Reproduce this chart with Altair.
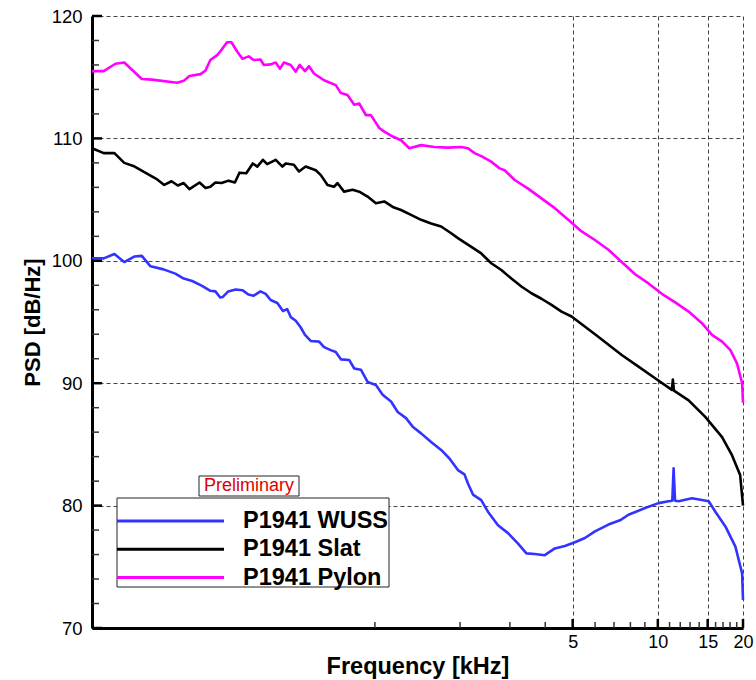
import altair as alt
import pandas as pd

FONT = "Liberation Sans"

series = ["P1941 WUSS", "P1941 Slat", "P1941 Pylon"]
colors = ["#3333ff", "#000000", "#ff00ff"]

# frequency in kHz, PSD in dB/Hz
wuss_f = [0.100, 0.110, 0.120, 0.130, 0.141, 0.150, 0.161, 0.179, 0.197, 0.211, 0.226, 0.245, 0.262, 0.273,
          0.284, 0.290, 0.303, 0.322, 0.340, 0.357, 0.373, 0.394, 0.411, 0.428, 0.452, 0.473, 0.490, 0.504,
          0.525, 0.547, 0.566, 0.593, 0.635, 0.661, 0.698, 0.727, 0.758, 0.811, 0.845, 0.892, 0.942, 1.008,
          1.065, 1.140, 1.204, 1.288, 1.360, 1.456, 1.580, 1.714, 1.834, 1.965, 2.073, 2.132, 2.221, 2.376,
          2.509, 2.723, 2.954, 3.206, 3.432, 3.672, 3.985, 4.324, 4.692, 5.091, 5.524, 5.995, 6.688, 7.350,
          7.874, 9.016, 10.06, 10.91, 11.25, 11.37, 11.50, 11.84, 13.20, 14.32, 15.13, 15.97, 17.33, 18.80,
          19.86, 20.0]
wuss_db = [100.2, 100.2, 100.55, 99.9, 100.35, 100.4, 99.55, 99.3, 98.95, 98.55, 98.35, 97.95, 97.55, 97.5,
           97.0, 97.05, 97.5, 97.65, 97.6, 97.25, 97.15, 97.5, 97.3, 96.8, 96.55, 95.9, 96.05, 95.4,
           95.1, 94.55, 93.95, 93.45, 93.4, 92.95, 92.7, 92.55, 91.95, 91.9, 91.2, 91.1, 90.1, 89.85,
           89.05, 88.5, 87.65, 87.15, 86.45, 85.9, 85.2, 84.55, 83.85, 82.9, 82.55, 81.8, 80.9, 80.45,
           79.5, 78.4, 77.75, 76.9, 76.1, 76.05, 75.95, 76.5, 76.7, 77.0, 77.35, 77.9, 78.45, 78.8,
           79.25, 79.8, 80.2, 80.35, 80.4, 83.05, 80.4, 80.35, 80.6, 80.45, 80.35, 79.5, 78.3, 76.65,
           74.45, 72.3]

slat_f = [0.100, 0.110, 0.120, 0.130, 0.140, 0.161, 0.170, 0.180, 0.191, 0.201, 0.211, 0.221, 0.240, 0.252,
          0.262, 0.273, 0.287, 0.304, 0.320, 0.332, 0.351, 0.370, 0.384, 0.402, 0.416, 0.446, 0.471, 0.484,
          0.517, 0.539, 0.569, 0.618, 0.644, 0.680, 0.717, 0.737, 0.778, 0.834, 0.880, 0.942, 1.008, 1.079,
          1.156, 1.237, 1.342, 1.456, 1.580, 1.714, 1.860, 1.965, 2.376, 2.578, 2.798, 3.036, 3.294, 3.575,
          3.879, 4.209, 4.567, 4.955, 6.077, 7.453, 8.544, 9.781, 11.21, 11.30, 11.40, 12.85, 14.71, 16.87,
          18.30, 19.54, 20.0]
slat_db = [109.2, 108.8, 108.8, 108.0, 107.75, 106.95, 106.65, 106.2, 106.5, 106.15, 106.35, 105.85, 106.4, 105.95,
           106.05, 106.4, 106.35, 106.55, 106.4, 107.2, 107.15, 107.95, 107.7, 108.25, 107.9, 108.25, 107.7, 107.95,
           107.85, 107.3, 107.7, 107.4, 107.0, 106.2, 106.05, 106.35, 105.65, 105.8, 105.65, 105.25, 104.7, 104.85,
           104.4, 104.15, 103.75, 103.35, 103.05, 102.8, 102.25, 101.85, 100.6, 99.8, 99.25, 98.55, 97.9, 97.35,
           96.9, 96.4, 95.85, 95.45, 93.9, 92.3, 91.35, 90.4, 89.45, 90.3, 89.4, 88.6, 87.25, 85.6,
           84.1, 82.5, 80.0]

pylon_f = [0.100, 0.110, 0.121, 0.130, 0.150, 0.163, 0.200, 0.211, 0.221, 0.242, 0.252, 0.262, 0.277, 0.284,
           0.300, 0.311, 0.326, 0.340, 0.358, 0.373, 0.394, 0.405, 0.428, 0.446, 0.462, 0.477, 0.504, 0.525,
           0.542, 0.566, 0.585, 0.609, 0.661, 0.727, 0.758, 0.800, 0.845, 0.880, 0.929, 0.968, 1.036, 1.079,
           1.156, 1.237, 1.323, 1.456, 1.623, 1.811, 2.018, 2.132, 2.250, 2.376, 2.578, 2.760, 2.874, 3.119,
           3.479, 3.879, 4.324, 4.824, 5.377, 5.995, 6.688, 7.453, 8.309, 9.268, 10.33, 11.52, 12.85, 14.32,
           15.54, 16.87, 18.05, 19.06, 19.86, 20.0]
pylon_db = [115.5, 115.5, 116.1, 116.2, 114.85, 114.8, 114.55, 114.7, 115.1, 115.25, 115.55, 116.4, 116.8, 117.1,
            117.85, 117.85, 117.1, 116.5, 116.7, 116.4, 116.45, 116.0, 116.05, 116.2, 115.7, 116.2, 116.0, 115.45,
            116.0, 115.5, 115.9, 115.3, 114.75, 114.35, 113.7, 113.55, 112.75, 112.85, 111.9, 111.9, 110.85, 110.55,
            110.15, 109.85, 109.2, 109.45, 109.3, 109.25, 109.3, 109.2, 108.8, 108.55, 108.1, 107.55, 107.4, 106.6,
            105.9, 105.1, 104.3, 103.35, 102.4, 101.7, 100.9, 99.9, 98.9, 98.15, 97.3, 96.6, 95.85, 94.9,
            93.95, 93.4, 92.7, 91.6, 90.0, 88.4]

x_major = [5, 10, 15, 20]
x_minor = [1, 2, 3, 4, 6, 7, 8, 9, 11, 12, 13, 14, 16, 17, 18, 19]
y_major = [70, 80, 90, 100, 110, 120]
y_minor = [72, 74, 76, 78, 82, 84, 86, 88, 92, 94, 96, 98, 102, 104, 106, 108, 112, 114, 116, 118]

rows = []
for name, fs, vs in zip(series, [wuss_f, slat_f, pylon_f], [wuss_db, slat_db, pylon_db]):
    for f, v in zip(fs, vs):
        rows.append({"series": name, "f": f, "db": v})
df = pd.DataFrame(rows)

W, H = 651, 612
xscale = alt.Scale(type="log", domain=[0.1, 20], nice=False)
yscale = alt.Scale(domain=[70, 120], nice=False, zero=False)

xaxis = alt.Axis(values=x_major, format="d", grid=True, gridDash=[4, 3], gridColor="#444444", gridOpacity=1,
                 gridWidth=1, ticks=False, tickSize=0, domainColor="black", domainWidth=3,
                 labelFont=FONT, labelFontSize=18, labelColor="black", labelPadding=5, labelFlush=False,
                 labelOverlap=False, title="Frequency [kHz]", titleFont=FONT, titleFontSize=23.5,
                 titleFontWeight="bold", titleColor="black", titleX=W / 2, titleY=45,
                 titleBaseline="alphabetic", titleAlign="center")
yaxis = alt.Axis(values=y_major, grid=True, gridDash=[4, 3], gridColor="#444444", gridOpacity=1,
                 gridWidth=1, ticks=False, tickSize=0, domainColor="black", domainWidth=3,
                 labelFont=FONT, labelFontSize=18.5, labelColor="black", labelPadding=10,
                 title="PSD [dB/Hz]", titleFont=FONT, titleFontSize=22, titleFontWeight="bold",
                 titleColor="black", titleX=-53, titleY=H / 2 + 0, titleAngle=270,
                 titleBaseline="alphabetic", titleAlign="center")

lines = alt.Chart(df).mark_line(strokeWidth=2.6, strokeJoin="round").encode(
    x=alt.X("f:Q", scale=xscale, axis=xaxis),
    y=alt.Y("db:Q", scale=yscale, axis=yaxis),
    color=alt.Color("series:N", scale=alt.Scale(domain=series, range=colors), legend=None),
    detail="series:N",
)


def xticks(vals, length, width, color):
    return alt.Chart(pd.DataFrame({"f": vals})).mark_rule(color=color, strokeWidth=width).encode(
        x=alt.X("f:Q", scale=xscale, axis=xaxis), y=alt.value(H), y2=alt.value(H - length))


def yticks(vals, length, width, color):
    return alt.Chart(pd.DataFrame({"db": vals})).mark_rule(color=color, strokeWidth=width).encode(
        y=alt.Y("db:Q", scale=yscale, axis=yaxis), x=alt.value(0), x2=alt.value(length))


one = pd.DataFrame({"a": [0]})
legend_layers = [
    alt.Chart(one).mark_rect(fill="white", stroke="#222222", strokeWidth=1).encode(
        x=alt.value(25), x2=alt.value(297), y=alt.value(482), y2=alt.value(571)),
    alt.Chart(one).mark_rect(fill="white", stroke="#222222", strokeWidth=1).encode(
        x=alt.value(107), x2=alt.value(207), y=alt.value(460), y2=alt.value(480)),
    alt.Chart(pd.DataFrame({"t": ["Preliminary"]})).mark_text(
        font=FONT, fontSize=18, color="#dd0000", align="center", baseline="middle").encode(
        text="t:N", x=alt.value(157), y=alt.value(470)),
]
for i, (name, col) in enumerate(zip(series, colors)):
    ly = 505 + 28.3 * i
    legend_layers.append(
        alt.Chart(one).mark_rule(color=col, strokeWidth=3).encode(
            x=alt.value(25), x2=alt.value(132), y=alt.value(ly)))
    legend_layers.append(
        alt.Chart(pd.DataFrame({"t": [name]})).mark_text(
            font=FONT, fontSize=23.5, fontWeight="bold", color="black", align="left", baseline="middle").encode(
            text="t:N", x=alt.value(151), y=alt.value(ly)))

chart = alt.layer(
    lines,
    xticks(x_minor, 6, 1.5, "#333333"),
    xticks(x_major, 9, 2.5, "black"),
    yticks(y_minor, 7, 1.5, "#333333"),
    yticks(y_major, 10, 2.5, "black"),
    *legend_layers,
).properties(
    width=W, height=H,
    padding={"left": 92, "top": 16, "right": 13, "bottom": 52},
    autosize=alt.AutoSizeParams(type="none"),
    background="white",
).configure_view(stroke=None)

chart.save("out.html", embed_options={"renderer": "svg", "actions": False})
